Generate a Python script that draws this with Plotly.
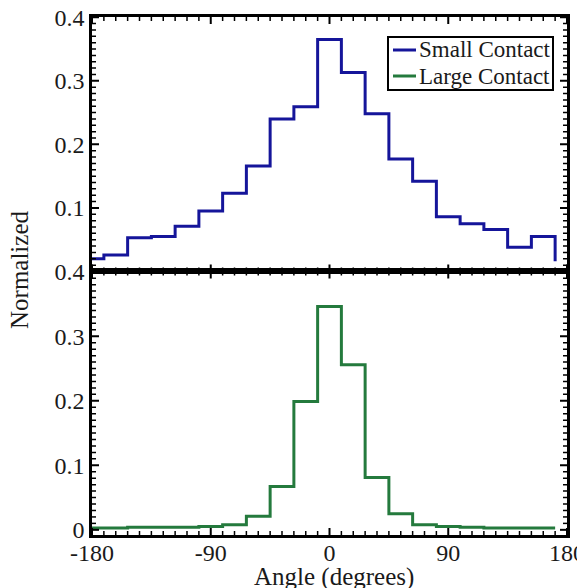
import plotly.graph_objects as go

# ---- data ----
bin_edges = [-180, -171, -153, -135, -117, -99, -81, -63, -45, -27, -9,
             9, 27, 45, 63, 81, 99, 117, 135, 153, 171]
small_contact = [0.020, 0.026, 0.053, 0.055, 0.071, 0.095, 0.123, 0.166, 0.240, 0.259, 0.365,
                 0.313, 0.248, 0.177, 0.142, 0.086, 0.075, 0.066, 0.038, 0.055, 0.016]
large_contact = [0.003, 0.003, 0.004, 0.004, 0.004, 0.005, 0.008, 0.021, 0.067, 0.199, 0.346,
                 0.256, 0.081, 0.025, 0.008, 0.005, 0.004, 0.003, 0.003, 0.003, 0.003]
series_names = ["Small Contact", "Large Contact"]
x_tick_start, x_tick_step, x_minor_step = -180, 90, 9
y_tick_step, y_minor_step = 0.1, 0.01
x_label_alias = {"\u2212180": "-180", "\u221290": "-90"}
top_y_label_alias = {"0": " "}

BLUE = "#15159a"
GREEN = "#247a3d"
FONT = "Liberation Serif"
TXT = "#1a1a1a"
SPLIT = 0.5087
X_RANGE = [-180, 180]
TOP_RANGE = [0, 0.4004]
BOT_RANGE = [-0.008, 0.4004]

OFF = 8
W, H = 585 - OFF, 588 - OFF
L, R, T, B = 92, 567, 17, 535
def px_x(x):
    return (x - L) / (R - L)
def px_y(y):
    return (B - y) / (B - T)

fig = go.Figure()
fig.add_trace(go.Scatter(x=bin_edges, y=small_contact, mode="lines", name=series_names[0],
                         line=dict(shape="hv", color=BLUE, width=3), xaxis="x", yaxis="y",
                         showlegend=False))
fig.add_trace(go.Scatter(x=bin_edges, y=large_contact, mode="lines", name=series_names[1],
                         line=dict(shape="hv", color=GREEN, width=3), xaxis="x2", yaxis="y2",
                         showlegend=False))

axis_style = dict(showline=True, linecolor="black", linewidth=2.5, mirror=True,
                  ticks="", showgrid=False, zeroline=False, automargin=False,
                  tickmode="linear", ticklabeloverflow="allow",
                  tickfont=dict(family=FONT, size=24, color=TXT))

# ---- inside tick marks (major + minor) on all four sides of both panels ----
x_major = [x_tick_start + x_tick_step * i for i in range(5)]
x_minor = [x_tick_start + x_minor_step * i for i in range(41) if i % 10]
y_major = [round(y_tick_step * i, 2) for i in range(5)]
y_minor = [round(y_minor_step * i, 2) for i in range(41) if i % 10]

shapes = []
for xr, yr, yrange in [("x", "y", TOP_RANGE), ("x2", "y2", BOT_RANGE)]:
    xt = [(v, 7, 2) for v in x_major] + [(v, 4, 1.5) for v in x_minor]
    for xv, ln, w in xt:
        for anchor, sgn in [(yrange[0], 1), (yrange[1], -1)]:
            shapes.append(dict(type="line", xref=xr, yref=yr, ysizemode="pixel", yanchor=anchor,
                               x0=xv, x1=xv, y0=0, y1=sgn * ln,
                               line=dict(color="black", width=w), layer="above"))
    yt = [(v, 7, 2) for v in y_major] + [(v, 4, 1.5) for v in y_minor]
    for yv, ln, w in yt:
        for anchor, sgn in [(X_RANGE[0], 1), (X_RANGE[1], -1)]:
            shapes.append(dict(type="line", xref=xr, yref=yr, xsizemode="pixel", xanchor=anchor,
                               x0=0, x1=sgn * ln, y0=yv, y1=yv,
                               line=dict(color="black", width=w), layer="above"))

# ---- hand-built compact legend ----
box = dict(x0=388, x1=553, y0=37, y1=90)
rows_y = [50, 76]
shapes.append(dict(type="rect", xref="paper", yref="paper",
                   x0=px_x(box["x0"]), x1=px_x(box["x1"]), y0=px_y(box["y1"]), y1=px_y(box["y0"]),
                   line=dict(color="black", width=2), fillcolor="white", layer="above"))
annotations = []
for name, col, ry in zip(series_names, [BLUE, GREEN], rows_y):
    shapes.append(dict(type="line", xref="paper", yref="paper",
                       x0=px_x(393), x1=px_x(416), y0=px_y(ry), y1=px_y(ry),
                       line=dict(color=col, width=3), layer="above"))
    annotations.append(dict(text=name, xref="paper", yref="paper", x=px_x(417), y=px_y(ry),
                            xanchor="left", yanchor="middle", showarrow=False,
                            font=dict(family=FONT, size=23, color=TXT)))

annotations += [
    dict(text="Normalized", xref="paper", yref="paper", x=px_x(19), y=px_y(270),
         xanchor="center", yanchor="middle", textangle=-90, showarrow=False,
         font=dict(family=FONT, size=25, color=TXT)),
    dict(text="Angle (degrees)", xref="paper", yref="paper", x=px_x(334), y=px_y(577),
         xanchor="center", yanchor="middle", showarrow=False,
         font=dict(family=FONT, size=25, color=TXT)),
]

fig.update_layout(
    template="none",
    width=W, height=H,
    margin=dict(l=L - OFF, r=585 - R, t=T - OFF, b=588 - B, pad=0),
    paper_bgcolor="white", plot_bgcolor="white",
    font=dict(family=FONT, color=TXT),
    showlegend=False,
    xaxis=dict(domain=[0, 1], anchor="y", range=X_RANGE, tick0=x_tick_start,
               dtick=x_tick_step, showticklabels=False, **axis_style),
    yaxis=dict(domain=[SPLIT, 1], anchor="x", range=TOP_RANGE, tick0=0, dtick=y_tick_step,
               labelalias=top_y_label_alias, **axis_style),
    xaxis2=dict(domain=[0, 1], anchor="y2", range=X_RANGE, tick0=x_tick_start,
                dtick=x_tick_step, labelalias=x_label_alias, ticklabelstandoff=-6, **axis_style),
    yaxis2=dict(domain=[0, SPLIT], anchor="x2", range=BOT_RANGE, tick0=0,
                dtick=y_tick_step, **axis_style),
    shapes=shapes,
    annotations=annotations,
)

fig.write_html("out.html")
